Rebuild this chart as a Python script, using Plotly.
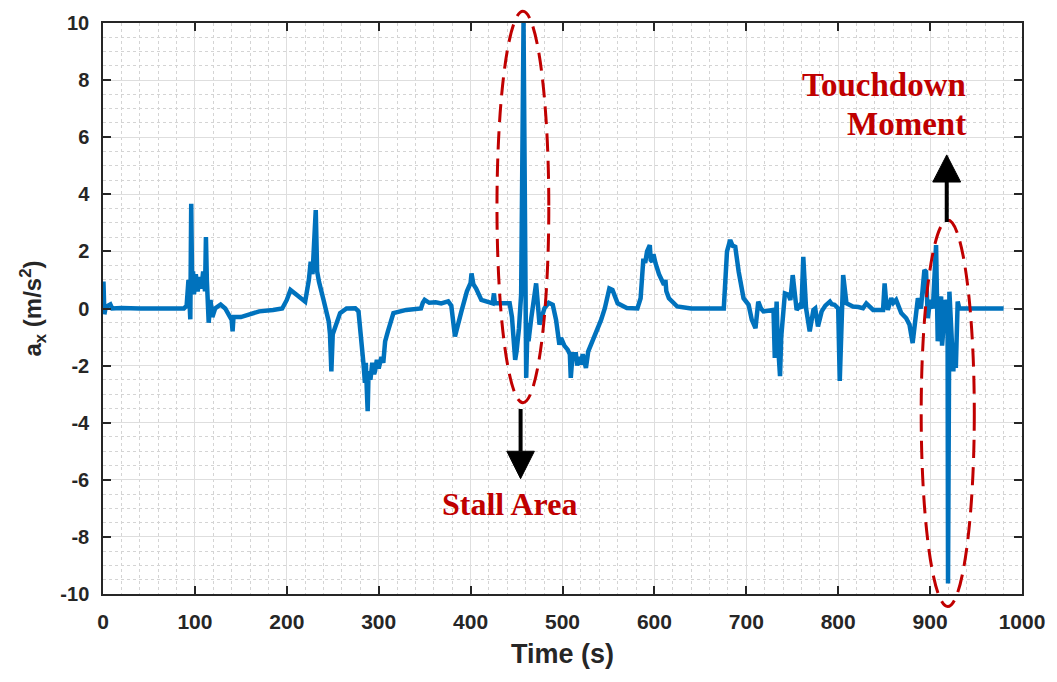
import plotly.graph_objects as go

# ---------------- data ----------------
time_s = [0, 0.5, 1.5, 3, 8, 10, 20, 40, 88, 91, 93, 95, 96, 97, 98, 99, 101, 103, 105, 107, 109, 111,
          112, 113, 114, 115, 117, 119, 122, 128, 133, 137, 140, 141, 142, 150, 160, 170, 185, 195,
          200, 204, 212, 220, 224, 226, 228, 230, 231.5, 233, 235, 240, 245.6, 247, 248.5, 250, 251,
          254, 258, 265, 274.5, 278, 281, 283.5, 285, 286, 287, 288, 289, 291, 293, 295, 296, 298,
          300, 303, 305, 307, 310, 316, 330, 346, 348, 350, 355, 362, 368, 375.6, 379, 383, 390, 396,
          400, 401, 403, 406, 411.7, 424, 425.4, 426.5, 442.5, 445, 448.5, 450, 452.6, 455, 457.6,
          459, 460.5, 462, 463, 466, 471.3, 475, 478, 480.4, 485, 489.4, 493, 496.6, 498.4, 502,
          505.6, 508, 509, 511, 514.6, 516, 518, 520, 522, 524, 525.5, 528, 531, 534, 538, 542, 546,
          551, 554.4, 560, 570, 581.5, 585, 588, 590, 592, 595, 596, 597.7, 599, 601.3, 605, 610.4,
          612, 613, 615.8, 624.8, 640, 675.5, 679, 682.5, 685, 688, 691.7, 697, 702.5, 706, 710, 713,
          716, 718.7, 729.6, 731, 733, 734, 736.7, 738, 742, 745.8, 748, 750.5, 752, 754.8, 758, 760,
          762, 765, 769, 773, 775, 778, 782, 786, 791, 793, 796, 800, 801.7, 805.4, 809, 816, 822,
          827, 830.6, 838, 848.8, 850.5, 852, 854, 857.7, 860, 863, 868.6, 874, 877.6, 881, 884,
          886.7, 890, 893.8, 895.6, 897.5, 900, 903, 906.5, 908.3, 910, 912, 913, 915.5, 917, 919,
          919.5, 921, 923, 925.3, 926.5, 928, 930, 931.8, 960, 980]
accel_x = [0.0, 0.94, -0.2, 0.05, 0.14, 0.0, 0.02, 0.0, 0.0, 0.1, 1.0, -0.38, 3.67, 0.8, 1.3, 0.5, 1.2,
           0.6, 1.1, 0.7, 1.3, 0.6, 2.5, 1.0, 0.2, -0.5, 0.3, -0.3, 0.0, 0.14, 0.0, -0.28, -0.4, -0.8,
           -0.3, -0.3, -0.2, -0.1, -0.05, 0.0, 0.3, 0.65, 0.45, 0.24, 1.0, 1.64, 1.2, 2.2, 3.45, 1.3,
           0.94, 0.3, -0.45, -0.9, -2.2, -0.9, -0.8, -0.5, -0.16, 0.0, 0.01, -0.1, -1.0, -1.95, -2.6,
           -1.9, -2.8, -3.6, -2.2, -2.5, -1.9, -2.3, -2.2, -1.8, -2.1, -1.7, -1.9, -1.15, -0.8, -0.16,
           -0.05, 0.0, 0.2, 0.3, 0.2, 0.22, 0.18, 0.25, 0.1, -0.98, -0.1, 0.6, 0.9, 1.23, 0.85, 0.7,
           0.3, 0.18, 0.53, 0.18, 0.18, -0.3, -1.8, -1.5, -0.7, 0.5, 10.0, 2.0, -2.43, -0.5, -1.15,
           -0.34, 0.88, -0.56, -0.3, 0.01, 0.2, 0.13, -0.4, -1.27, -1.03, -1.3, -1.44, -1.6, -2.43,
           -1.6, -1.6, -2.0, -1.7, -1.96, -1.6, -1.9, -2.08, -1.5, -1.27, -1.1, -0.8, -0.4, 0.0, 0.7,
           0.65, 0.18, 0.02, 0.0, 0.36, 1.75, 1.6, 2.0, 2.22, 1.7, 1.64, 1.9, 1.58, 1.2, 0.83, 1.0,
           0.6, 0.36, 0.07, 0.0, 0.0, 2.0, 2.4, 2.2, 2.16, 1.29, 0.36, 0.13, -0.4, -0.69, 0.24, 0.0,
           -0.1, -0.05, -1.73, 0.24, -1.0, -2.37, -1.0, 0.53, 0.48, 0.3, 1.17, 0.8, -0.05, 0.1, 0.0,
           1.81, 0.01, -0.8, -0.05, 0.0, -0.63, -0.1, 0.1, 0.24, 0.15, 0.13, 0.0, -2.54, 1.17, 0.18,
           0.07, 0.05, 0.01, 0.18, -0.05, -0.05, 0.88, 0.3, -0.05, 0.36, 0.2, 0.3, -0.16, -0.34,
           -0.57, -1.21, -0.2, 0.36, 0.0, 1.35, 1.29, -0.34, 0.3, 0.0, 2.22, -1.15, 0.2, 0.42, -1.3,
           -0.45, 0.3, 0.1, -9.63, 0.59, -1.0, -2.2, -1.2, -2.08, 0.24, 0.0, 0.0, 0.0]

x_ticks = [0, 100, 200, 300, 400, 500, 600, 700, 800, 900, 1000]
y_ticks = [10, 8, 6, 4, 2, 0, -2, -4, -6, -8, -10]

X_MIN, X_MAX = 0, 1000
Y_MIN, Y_MAX = -10, 10

# annotation geometry (data units)
stall_ellipse = dict(x0=428.7, x1=485.1, y0=-3.30, y1=10.41)
touch_ellipse = dict(x0=890.3, x1=948.1, y0=-10.44, y1=3.10)
stall_arrow = dict(x=454.4, y_tail=-3.52, y_base=-5.0, y_tip=-5.96, half_w=15.0)
touch_arrow = dict(x=918.1, y_tail=3.03, y_base=4.43, y_tip=5.38, half_w=15.2)

RED = "#C00000"
BLUE = "#0072BD"
AXC = "#262626"


def fx(x):
    return (x - X_MIN) / (X_MAX - X_MIN)


def fy(y):
    return (y - Y_MIN) / (Y_MAX - Y_MIN)


fig = go.Figure()
fig.add_trace(go.Scatter(x=time_s, y=accel_x, mode="lines",
                         line=dict(color=BLUE, width=4.5), cliponaxis=True,
                         showlegend=False))

shapes = []
for e in (stall_ellipse, touch_ellipse):
    shapes.append(dict(type="circle", xref="paper", yref="paper",
                       x0=fx(e["x0"]), x1=fx(e["x1"]), y0=fy(e["y0"]), y1=fy(e["y1"]),
                       line=dict(color=RED, width=3, dash="18px,9px"), layer="above"))

for a in (stall_arrow, touch_arrow):
    shapes.append(dict(type="line", xref="paper", yref="paper",
                       x0=fx(a["x"]), x1=fx(a["x"]), y0=fy(a["y_tail"]), y1=fy(a["y_base"]),
                       line=dict(color="black", width=4)))
    path = "M {l} {b} L {r} {b} L {c} {t} Z".format(
        l=fx(a["x"] - a["half_w"]), r=fx(a["x"] + a["half_w"]),
        c=fx(a["x"]), b=fy(a["y_base"]), t=fy(a["y_tip"]))
    shapes.append(dict(type="path", xref="paper", yref="paper", path=path,
                       fillcolor="black", line=dict(color="black", width=1)))

serif = "Liberation Serif, Times New Roman, serif"
annotations = [
    dict(text="<b>Stall Area</b>", x=fx(441.8), y=fy(-6.86), xref="paper", yref="paper",
         showarrow=False, xanchor="center", yanchor="middle",
         font=dict(family=serif, size=32, color=RED)),
    dict(text="<b>Touchdown</b>", x=fx(941.0), y=fy(7.84), xref="paper", yref="paper",
         showarrow=False, xanchor="right", yanchor="middle",
         font=dict(family=serif, size=33, color=RED)),
    dict(text="<b>Moment</b>", x=fx(941.0), y=fy(6.45), xref="paper", yref="paper",
         showarrow=False, xanchor="right", yanchor="middle",
         font=dict(family=serif, size=33, color=RED)),
]

sans = "Liberation Sans, Arial, sans-serif"
fig.update_layout(
    width=1057, height=682,
    margin=dict(l=103, r=27, t=20, b=88),
    paper_bgcolor="white", plot_bgcolor="white",
    shapes=shapes, annotations=annotations,
    xaxis=dict(range=[X_MIN, X_MAX], tickvals=x_ticks, ticktext=[str(v) for v in x_ticks],
               showline=True, linecolor=AXC, linewidth=1.5, mirror="ticks",
               ticks="inside", ticklen=8, tickcolor=AXC, tickwidth=1.5,
               showgrid=True, gridcolor="#dedede", gridwidth=1, zeroline=False,
               minor=dict(dtick=20, showgrid=True, gridcolor="#d4d4d4", griddash="dot", gridwidth=1),
               tickfont=dict(family=sans, size=21, color=AXC, weight="bold"),
               ticklabelstandoff=8,
               title=dict(text="<b>Time (s)</b>", font=dict(family=sans, size=27, color=AXC),
                          standoff=12)),
    yaxis=dict(range=[Y_MIN, Y_MAX], tickvals=y_ticks, ticktext=[str(v) for v in y_ticks],
               showline=True, linecolor=AXC, linewidth=1.5, mirror="ticks",
               ticks="inside", ticklen=8, tickcolor=AXC, tickwidth=1.5,
               showgrid=True, gridcolor="#dedede", gridwidth=1, zeroline=False,
               minor=dict(dtick=0.5, showgrid=True, gridcolor="#d4d4d4", griddash="dot", gridwidth=1),
               tickfont=dict(family=sans, size=20, color=AXC, weight="bold"),
               ticklabelstandoff=8,
               title=dict(text="<b>a<sub>x</sub> (m/s<sup>2</sup>)</b>",
                          font=dict(family=sans, size=24, color=AXC), standoff=12)),
)

fig.write_html("out.html")
